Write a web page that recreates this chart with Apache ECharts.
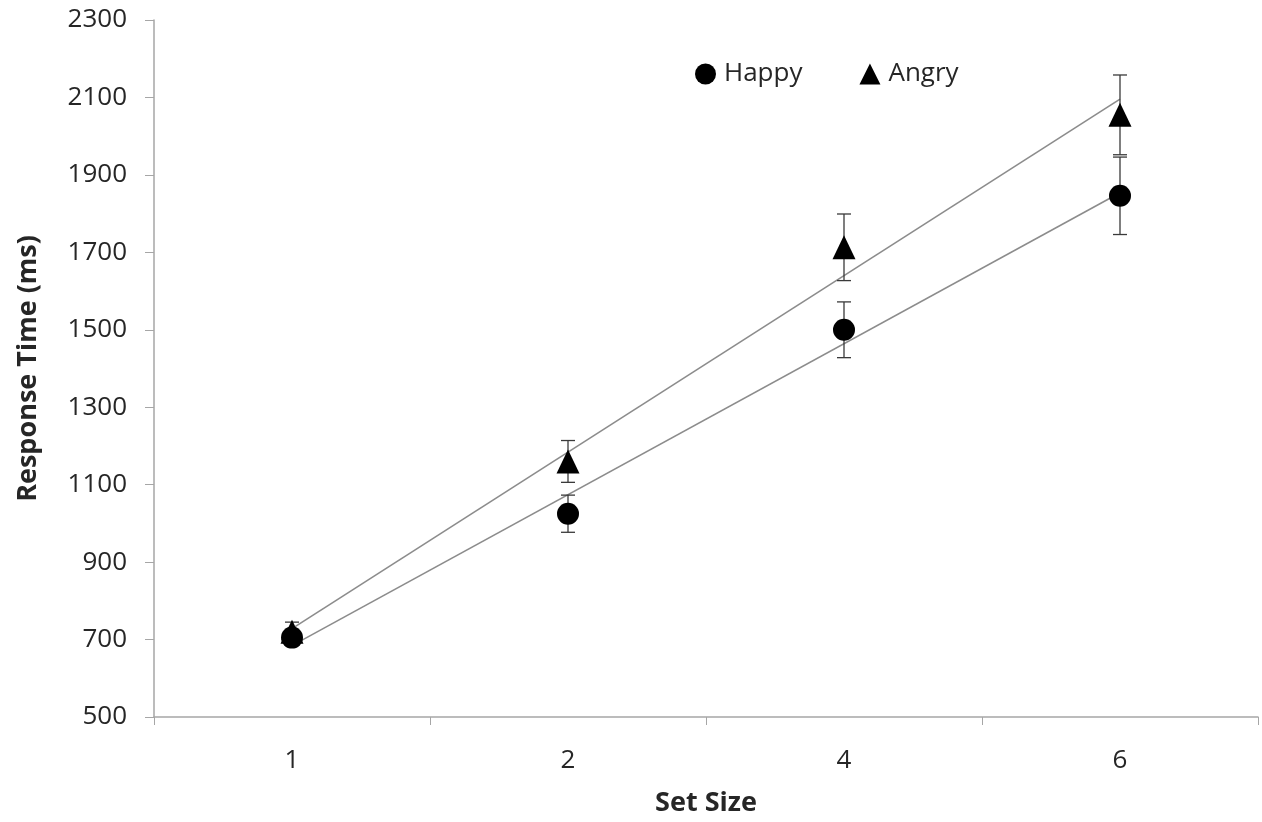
<!DOCTYPE html>
<html>
<head>
<meta charset="utf-8">
<script src="https://cdn.jsdelivr.net/npm/echarts@6/dist/echarts.min.js"></script>
<style>html,body{margin:0;padding:0;background:#fff}#c{width:1262px;height:822px}</style>
</head>
<body>
<div id="c"></div>
<script>
const categories = ['1', '2', '4', '6'];
const happyMean = [705, 1025, 1500, 1846];
const happyErr = [20, 48, 72, 100];
const angryMean = [720, 1160, 1713, 2055];
const angryErr = [25, 54, 86, 103];
const yTicks = { min: 500, max: 2300, interval: 200 };

function fit(vals) {
  const n = vals.length;
  const xs = vals.map((_, i) => i + 1);
  const mx = xs.reduce((a, b) => a + b, 0) / n;
  const my = vals.reduce((a, b) => a + b, 0) / n;
  let sxy = 0, sxx = 0;
  for (let i = 0; i < n; i++) { sxy += (xs[i] - mx) * (vals[i] - my); sxx += (xs[i] - mx) ** 2; }
  const b = sxy / sxx, a = my - b * mx;
  return [[0, a + b * 1], [n - 1, a + b * n]];
}

function errData(m, e) { return m.map((v, i) => [i, v - e[i], v + e[i]]); }

function errRender(params, api) {
  const x = api.value(0);
  const lo = api.coord([x, api.value(1)]);
  const hi = api.coord([x, api.value(2)]);
  const w = 7;
  const st = { stroke: '#3a3a3a', lineWidth: 1.3 };
  return {
    type: 'group',
    children: [
      { type: 'line', shape: { x1: lo[0], y1: lo[1], x2: hi[0], y2: hi[1] }, style: st },
      { type: 'line', shape: { x1: lo[0] - w, y1: lo[1], x2: lo[0] + w, y2: lo[1] }, style: st },
      { type: 'line', shape: { x1: hi[0] - w, y1: hi[1], x2: hi[0] + w, y2: hi[1] }, style: st }
    ]
  };
}

const chart = echarts.init(document.getElementById('c'));
const fontFam = '"Open Sans", "Liberation Sans", sans-serif';
chart.setOption({
  animation: false,
  textStyle: { fontFamily: fontFam },
  grid: { left: 154, right: 4, top: 20, bottom: 104 },
  legend: {
    data: ['Happy', 'Angry'],
    left: 690, top: 56,
    itemWidth: 21, itemHeight: 21, itemGap: 57,
    textStyle: { fontSize: 26, color: '#262626', fontFamily: fontFam, padding: [0, 0, 0, 3] }
  },
  xAxis: {
    type: 'category',
    data: categories,
    boundaryGap: true,
    name: 'Set Size',
    nameLocation: 'middle',
    nameGap: 73,
    nameTextStyle: { fontSize: 27, fontWeight: 'bold', color: '#262626' },
    axisLine: { lineStyle: { color: '#a6a6a6', width: 1.5 } },
    axisTick: { show: true, length: 8, lineStyle: { color: '#a6a6a6' } },
    axisLabel: { fontSize: 26, color: '#262626', margin: 31 },
    splitLine: { show: false }
  },
  yAxis: {
    type: 'value',
    min: yTicks.min, max: yTicks.max, interval: yTicks.interval,
    name: 'Response Time (ms)',
    nameLocation: 'middle',
    nameGap: 112,
    nameTextStyle: { fontSize: 27, fontWeight: 'bold', color: '#262626' },
    axisLine: { show: true, lineStyle: { color: '#a6a6a6', width: 1.5 } },
    axisTick: { show: true, length: 9, lineStyle: { color: '#a6a6a6' } },
    axisLabel: { fontSize: 26, color: '#262626', margin: 27, formatter: v => String(v) },
    splitLine: { show: false }
  },
  series: [
    { type: 'line', data: fit(happyMean), symbol: 'none', lineStyle: { color: '#8c8c8c', width: 1.6 }, silent: true, z: 1 },
    { type: 'line', data: fit(angryMean), symbol: 'none', lineStyle: { color: '#8c8c8c', width: 1.6 }, silent: true, z: 1 },
    { type: 'custom', renderItem: errRender, data: errData(happyMean, happyErr), z: 2 },
    { type: 'custom', renderItem: errRender, data: errData(angryMean, angryErr), z: 2 },
    { name: 'Happy', type: 'scatter', data: happyMean.map((v, i) => [i, v]), symbol: 'circle', symbolSize: 22, itemStyle: { color: '#000', opacity: 1 }, z: 3 },
    { name: 'Angry', type: 'scatter', data: angryMean.map((v, i) => [i, v]), symbol: 'triangle', symbolSize: [23, 24], itemStyle: { color: '#000', opacity: 1 }, z: 3 }
  ]
});
</script>
</body>
</html>
